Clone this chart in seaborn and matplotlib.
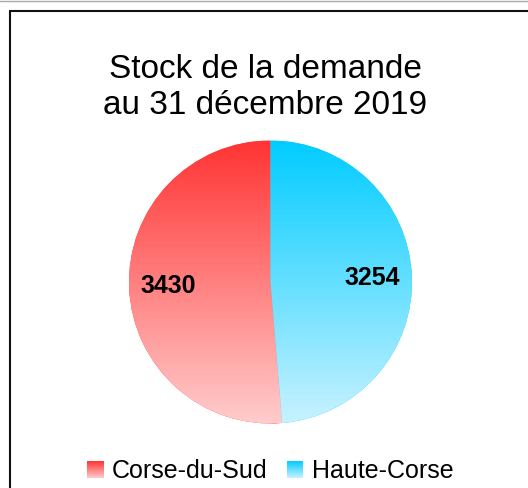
import numpy as np
import matplotlib
matplotlib.use("Agg")
import matplotlib.pyplot as plt
from matplotlib.colors import to_rgb
from matplotlib.lines import Line2D
import seaborn as sns

# ---- data ----
categories = ["Corse-du-Sud", "Haute-Corse"]
values = [3430, 3254]
top_colors = ["#ff3333", "#00ccff"]
bottom_colors = ["#ffcccc", "#c8f2ff"]
title_lines = ["Stock de la demande", "au 31 décembre 2019"]

sns.set_theme(style="white")
plt.rcParams["font.family"] = ["Liberation Sans", "DejaVu Sans"]
plt.rcParams["text.color"] = "black"

W, H = 528, 488
fig = plt.figure(figsize=(W / 100, H / 100), dpi=100)
fig.patch.set_facecolor("white")


def px_box(x0, y0, x1, y1):
    """pixel box (top-left origin) -> figure fraction rect"""
    return [x0 / W, 1 - y1 / H, (x1 - x0) / W, (y1 - y0) / H]


def gradient(c_top, c_bot, n=256):
    a = np.array(to_rgb(c_top))
    b = np.array(to_rgb(c_bot))
    t = np.linspace(0, 1, n)[:, None]
    g = a[None, :] * (1 - t) + b[None, :] * t
    return g[:, None, :]


# ---- pie ----
cx, cy, r = 270.5, 282.0, 141.5
ax = fig.add_axes(px_box(cx - r, cy - r, cx + r, cy + r))
wedges, texts, autotexts = ax.pie(
    values,
    colors=top_colors,
    startangle=90,
    counterclock=True,
    radius=1,
    autopct=lambda p: f"{int(round(p * sum(values) / 100))}",
    pctdistance=0.72,
    wedgeprops=dict(linewidth=0),
)
for w, ct, cb in zip(wedges, top_colors, bottom_colors):
    im = ax.imshow(gradient(ct, cb), extent=(-1, 1, -1, 1), origin="upper",
                   aspect="auto", zorder=w.get_zorder() + 0.1, interpolation="bilinear")
    im.set_clip_path(w)
for t in autotexts:
    t.set_fontsize(18)
    t.set_fontweight("bold")
    t.set_color("black")
    t.set_zorder(5)
ax.set_xlim(-1, 1)
ax.set_ylim(-1, 1)
ax.set_aspect("equal")
ax.axis("off")

# ---- title ----
fig.text(265 / W, 1 - 78.3 / H, title_lines[0], ha="center", va="baseline", fontsize=24, color="black")
fig.text(265 / W, 1 - 114 / H, title_lines[1], ha="center", va="baseline", fontsize=24, color="black")

# ---- legend ----
sw = [(87, 461, 104, 478), (287, 461, 303, 478)]
tx = [112, 311.5]
for cat, ct, cb, box, x in zip(categories, top_colors, bottom_colors, sw, tx):
    lax = fig.add_axes(px_box(*box))
    lax.imshow(gradient(ct, cb), aspect="auto", origin="upper", interpolation="bilinear")
    lax.axis("off")
    fig.text(x / W, 1 - 477.5 / H, cat, ha="left", va="baseline", fontsize=18, color="black")

# ---- frame lines ----
fig.add_artist(Line2D([9.5 / W, 9.5 / W], [0, 1 - 10.5 / H], color="#111111", lw=1.5,
                      transform=fig.transFigure))
fig.add_artist(Line2D([9.5 / W, 1], [1 - 10.5 / H, 1 - 10.5 / H], color="#111111", lw=1.5,
                      transform=fig.transFigure))
fig.add_artist(Line2D([0, 1], [1 - 0.5 / H, 1 - 0.5 / H], color="#aaaaaa", lw=1,
                      transform=fig.transFigure))

fig.savefig("out.png", dpi=100, facecolor="white")
